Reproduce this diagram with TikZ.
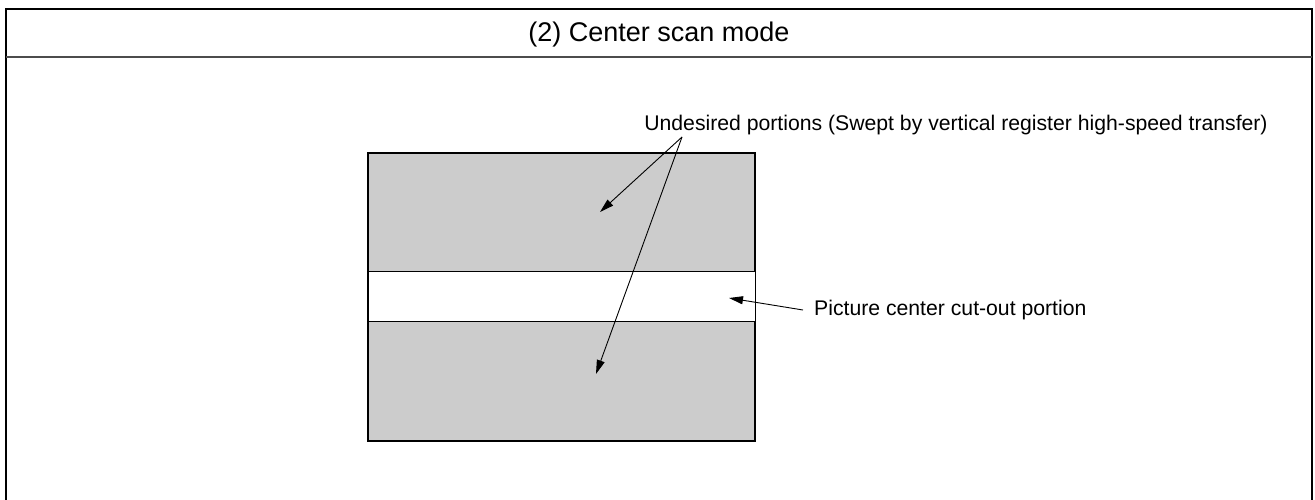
\documentclass[tikz,border=0pt]{standalone}
\usepackage{fontspec}
\setmainfont{Liberation Sans}
\usetikzlibrary{arrows.meta}
\definecolor{lgray}{RGB}{204, 204, 204}

\tikzset{
  lbl/.style = {inner sep = 0pt, font = \fontsize{21.2}{25}\selectfont},
  ptr/.style = {line width = 0.9pt, -{Triangle[length = 14pt, width = 8pt]}}
}

\begin{document}
\begin{tikzpicture}[x = 1pt, y = -1pt]
			\useasboundingbox (0,0) rectangle (1315,500);
			% frame and title row
			\draw[line width = 2.6pt] (6,500) -- (6,9) -- (1312,9) -- (1312,500);
			\draw[line width = 1.3pt, black!70] (6,57) -- (1312,57);
			\node (title) at (659,35) [inner sep = 0pt, font = \fontsize{27}{32}\selectfont] {(2) Center scan mode};
			% sensor area
			\filldraw[fill = lgray, line width = 2pt] (368,153) rectangle (755,441);
			\filldraw[fill = white, line width = 0.8pt] (368,271) rectangle (755,321);
			% labels
			\node (undes) at (956,125) [lbl] {Undesired portions (Swept by vertical register high-speed transfer)};
			\node (cut) at (814,310) [lbl, anchor = west] {Picture center cut-out portion};
			\coordinate (src) at (682,137);
			\coordinate (top) at (600,212);
			\coordinate (bot) at (596,374);
			\coordinate (cuttail) at (803,310);
			\coordinate (cuttip) at (729,298);
			\draw[ptr] (src) -- (top);
			\draw[ptr] (src) -- (bot);
			\draw[ptr] (cuttail) -- (cuttip);
			\end{tikzpicture}
\end{document}
